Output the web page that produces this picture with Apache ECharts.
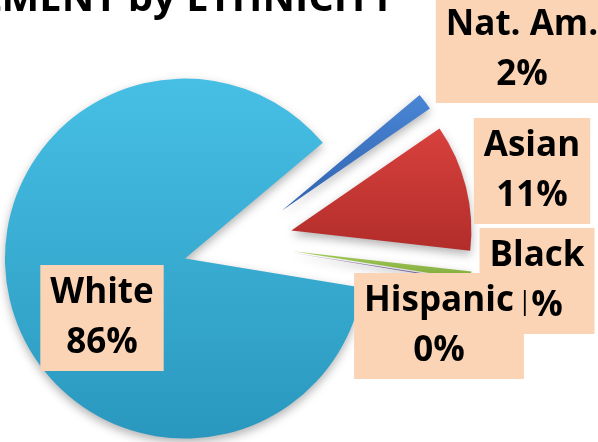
<!DOCTYPE html>
<html>
<head>
<meta charset="utf-8">
<script src="https://cdn.jsdelivr.net/npm/echarts@6/dist/echarts.min.js"></script>
<style>
  html, body { margin: 0; padding: 0; background: #fff; }
  #chart { width: 598px; height: 442px; }
</style>
</head>
<body>
<div id="chart"></div>
<script>
const groups = ["Nat. Am.", "Asian", "Black", "Hispanic", "White"];
const shares = [1.5, 11.4, 0.7, 0.1, 86.3];
const topColors = ["#4A86D4", "#D8413D", "#A4CC5A", "#8064A2", "#47BFE5"];
const bottomColors = ["#2F62B0", "#B22D2A", "#7FA83A", "#6A5090", "#2A98BE"];

// centre of each label box
const labelSpots = [
  { x: 522, y: 50 },
  { x: 532, y: 171 },
  { x: 537, y: 281 },
  { x: 439, y: 326 },
  { x: 102, y: 318 }
];

const chart = echarts.init(document.getElementById("chart"));

const pieBase = {
  type: "pie",
  center: [238, 244],
  radius: [0, 180],
  startAngle: 40,
  percentPrecision: 0,
  avoidLabelOverlap: false,
  emphasis: { disabled: true },
  labelLine: { show: false }
};

chart.setOption({
  animation: false,
  title: {
    text: "ENROLLMENT by ETHNICITY",
    right: 198,
    top: -25,
    textStyle: {
      fontFamily: "Open Sans",
      fontWeight: "bold",
      fontSize: 40,
      color: "#000"
    }
  },
  series: [
    // exploded slices
    Object.assign({}, pieBase, {
      selectedMode: "multiple",
      selectedOffset: 55,
      label: { show: false },
      itemStyle: {
        shadowBlur: 10,
        shadowColor: "rgba(0, 0, 0, 0.3)",
        shadowOffsetY: 4
      },
      data: groups.map((name, i) => ({
        name: name,
        value: shares[i],
        selected: true,
        itemStyle: {
          color: new echarts.graphic.LinearGradient(0, 0, 0, 1, [
            { offset: 0, color: topColors[i] },
            { offset: 1, color: bottomColors[i] }
          ])
        }
      }))
    }),
    // same pie, invisible, only carries the labels
    Object.assign({}, pieBase, {
      silent: true,
      itemStyle: { color: "rgba(0,0,0,0)" },
      label: {
        show: true,
        position: "outside",
        formatter: "{b}\n{d}%",
        fontFamily: "Open Sans",
        fontWeight: "bold",
        fontSize: 35,
        lineHeight: 50,
        color: "#000",
        backgroundColor: "#FAD4B4",
        padding: [3, 10],
        align: "center"
      },
      labelLayout: function (params) {
        const spot = labelSpots[params.dataIndex];
        return { x: spot.x, y: spot.y, align: "center", verticalAlign: "middle" };
      },
      data: groups.map((name, i) => ({ name: name, value: shares[i] }))
    })
  ]
});
</script>
</body>
</html>
